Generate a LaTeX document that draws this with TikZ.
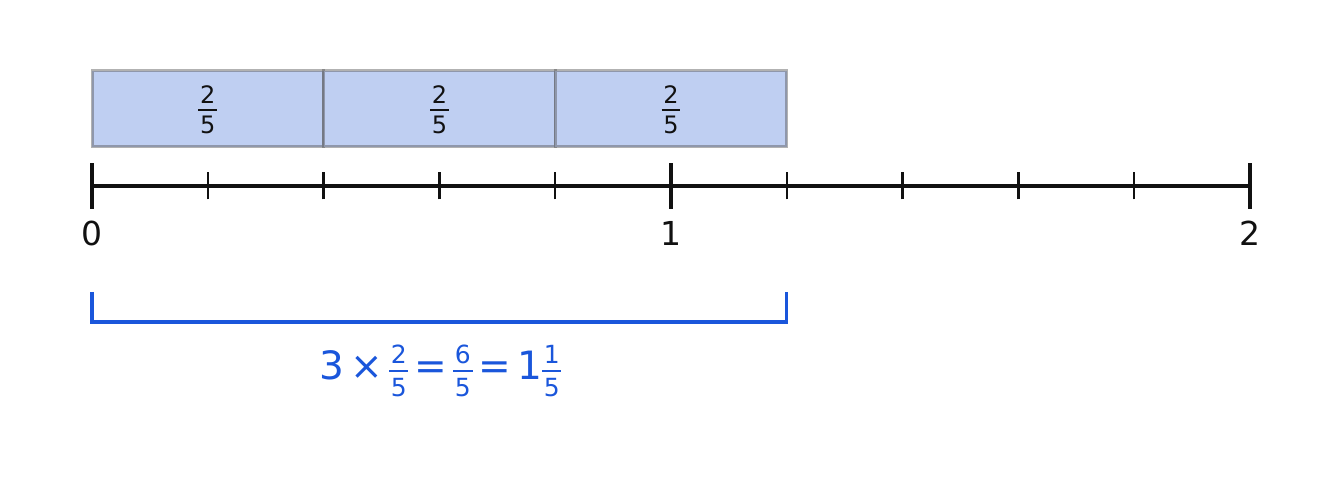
\documentclass[tikz,border=0pt]{standalone}
\usepackage{fontspec}
\setmainfont{DejaVu Sans}
\definecolor{barfill}{HTML}{BFCFF2}
\definecolor{edgegray}{HTML}{555555}
\definecolor{axisblack}{HTML}{111111}
\definecolor{accentblue}{HTML}{1A56DB}
% #1 digit size, #2 numerator, #3 denominator, #4 rule thickness, #5 gap, #6 height of rule centre above baseline
\newcommand\myfr[6]{\begingroup\fontsize{#1}{#1}\selectfont
  \setbox0=\hbox{#2}\setbox2=\hbox{#3}%
  \dimen0=\ifdim\wd0>\wd2 \wd0\else\wd2\fi
  \advance\dimen0 by 0.14em
  \raise\dimexpr#6-#5-\ht2-#4/2\relax\vbox{\hbox to\dimen0{\hfil\box0\hfil}\kern#5\hrule height#4\kern#5\hbox to\dimen0{\hfil\box2\hfil}}%
  \endgroup}
\newcommand\fsp{\hspace{6pt}}
\begin{document}
\begin{tikzpicture}[x=1pt,y=-1pt,
  seg/.style={fill=barfill,draw=edgegray,draw opacity=0.45,line width=3pt},
  axisline/.style={draw=axisblack,line width=4pt},
  majortick/.style={draw=axisblack,line width=4.5pt},
  minortick/.style={draw=axisblack,line width=2.5pt},
  ticklabel/.style={text=axisblack,font=\fontsize{33}{33}\selectfont,anchor=base,inner sep=0pt},
  barlabel/.style={text=axisblack,anchor=base,inner sep=0pt},
  bracket/.style={draw=accentblue,line width=3.3pt},
  formula/.style={text=accentblue,font=\fontsize{39}{39}\selectfont,anchor=base,inner sep=0pt}]
\useasboundingbox (0,0) rectangle (1342,502);
% bars
\node[seg,rectangle,minimum width=231.6pt,minimum height=76pt,inner sep=0pt] (s1) at (207.8,109) {};
\node[seg,rectangle,minimum width=231.6pt,minimum height=76pt,inner sep=0pt] (s2) at (439.4,109) {};
\node[seg,rectangle,minimum width=231.6pt,minimum height=76pt,inner sep=0pt] (s3) at (671.0,109) {};
\node[barlabel] (l1) at (207.8,110) {\myfr{24pt}{2}{5}{2pt}{5.5pt}{0pt}};
\node[barlabel] (l2) at (439.4,110) {\myfr{24pt}{2}{5}{2pt}{5.5pt}{0pt}};
\node[barlabel] (l3) at (671.0,110) {\myfr{24pt}{2}{5}{2pt}{5.5pt}{0pt}};
% number line
\coordinate (n0) at (92,186);
\coordinate (n2) at (1250,186);
\draw[axisline] (n0) -- (n2);
\foreach \k in {1,2,3,4,6,7,8,9}{
  \coordinate (m\k) at ({92+115.8*\k},186);
  \draw[minortick] ([yshift=-13.5pt]m\k) -- ([yshift=13.5pt]m\k);
}
\coordinate (n1) at (671,186);
\foreach \c in {n0,n1,n2}{
  \draw[majortick] ([yshift=-23pt]\c) -- ([yshift=23pt]\c);
}
\node[ticklabel] (t0) at (92,245.5) {0};
\node[ticklabel] (t1) at (671,245.5) {1};
\node[ticklabel] (t2) at (1250,245.5) {2};
% bracket
\coordinate (b0) at (92,292);
\coordinate (b1) at (786.8,292);
\draw[bracket] (b0) -- (92,322) -- (786.8,322) -- (b1);
\node[formula] (eq) at (440.5,380) {3\fsp×\fsp\myfr{25pt}{2}{5}{2.2pt}{6.5pt}{9pt}\fsp=\fsp\myfr{25pt}{6}{5}{2.2pt}{6.5pt}{9pt}\fsp=\fsp1\myfr{25pt}{1}{5}{2.2pt}{6.5pt}{9pt}};
\end{tikzpicture}
\end{document}
